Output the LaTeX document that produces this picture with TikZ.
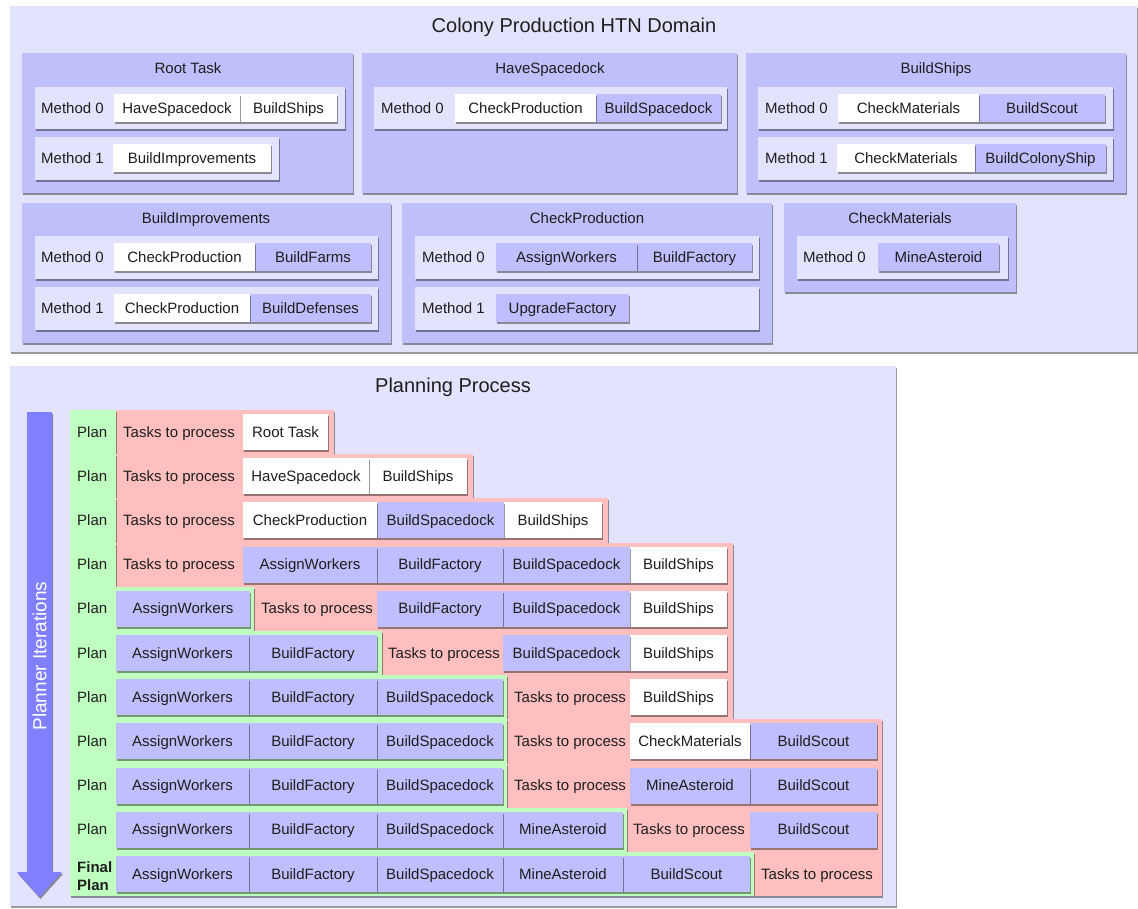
\documentclass[tikz,border=0pt]{standalone}
\usepackage{fontspec}
\setmainfont{Liberation Sans}
\usetikzlibrary{shadows}

\definecolor{bgl}{HTML}{E3E3FD}
\definecolor{pnl}{HTML}{BFBFFC}
\definecolor{tlav}{HTML}{BFBFFF}
\definecolor{grn}{HTML}{BFFFBF}
\definecolor{pnk}{HTML}{FFBFBF}
\definecolor{arw}{HTML}{8080FF}
\definecolor{ink}{HTML}{1E1E1E}

\tikzset{
  shd/.style={drop shadow={shadow xshift=1pt,shadow yshift=-2pt,opacity=.4,fill=black}},
  base/.style={rectangle, inner sep=0pt, outer sep=0pt, text=ink,
    font=\fontsize{15}{18}\selectfont, text height=12pt, text depth=2pt},
  outerbox/.style={base, fill=bgl, shd},
  panel/.style={base, fill=pnl, shd},
  mrow/.style={base, fill=bgl, shd},
  wtask/.style={base, fill=white, shd},
  ltask/.style={base, fill=tlav, shd},
  plan/.style={base, fill=grn, shd},
  todo/.style={base, fill=pnk, shd},
  lbl/.style={inner sep=0pt, text=ink, font=\fontsize{15}{18}\selectfont,
    text height=12pt, text depth=2pt},
  ttl/.style={inner sep=0pt, text=ink, font=\fontsize{20}{24}\selectfont,
    text height=16pt, text depth=2pt},
}

% rectangle node given by its corners
\newcommand\boxat[7]{\node[#1, minimum width={(#4)-(#2)}, minimum height={(#5)-(#3)}]
  (#6) at ({((#2)+(#4))/2},{((#3)+(#5))/2}) {#7};}
% planning rows: row number, style, left, right, name
\newcommand\bandat[5]{\node[#2, minimum width={(#4)-(#3)}, minimum height=44.2]
  (#5) at ({((#3)+(#4))/2},{432.1+44.2*((#1)-1)}) {};}
\newcommand\taskat[6]{\node[#2, minimum width={(#4)-(#3)}, minimum height=36]
  (#5) at ({((#3)+(#4))/2},{432+44.2*((#1)-1)}) {#6};}
\newcommand\textat[4]{\node[lbl, anchor=west] (#3) at (#2,{432+44.2*((#1)-1)}) {#4};}

\begin{document}
\begin{tikzpicture}[x=1pt,y=-1pt]
\useasboundingbox (0,0) rectangle (1138,908);
\fill[white] (0,0) rectangle (1138,908);

% ---------------- domain ----------------
\boxat{outerbox}{10}{6}{1137}{352}{domain}{}
\node[ttl] (domaintitle) at (574,25) {Colony Production HTN Domain};

% Root Task
\boxat{panel}{22}{53}{353}{193}{rootp}{}
\node[lbl] (rootpt) at (188,68) {Root Task};
\boxat{mrow}{35}{87}{345}{129}{rootm0}{}
\node[lbl,anchor=west] (rootm0l) at (41,108) {Method 0};
\boxat{wtask}{240}{94}{337}{122}{rootm0b}{BuildShips}
\boxat{wtask}{114}{94}{240}{122}{rootm0a}{HaveSpacedock}
\boxat{mrow}{35}{137}{279}{180}{rootm1}{}
\node[lbl,anchor=west] (rootm1l) at (41,158) {Method 1};
\boxat{wtask}{113}{144}{271}{172}{rootm1a}{BuildImprovements}

% HaveSpacedock
\boxat{panel}{362}{53}{737}{193}{hsp}{}
\node[lbl] (hspt) at (550,68) {HaveSpacedock};
\boxat{mrow}{374}{87}{727}{129}{hspm0}{}
\node[lbl,anchor=west] (hspm0l) at (381,108) {Method 0};
\boxat{ltask}{596}{94}{721}{122}{hspm0b}{BuildSpacedock}
\boxat{wtask}{455}{94}{596}{122}{hspm0a}{CheckProduction}

% BuildShips
\boxat{panel}{746}{53}{1126}{193}{bsp}{}
\node[lbl] (bspt) at (936,68) {BuildShips};
\boxat{mrow}{758}{87}{1113}{129}{bspm0}{}
\node[lbl,anchor=west] (bspm0l) at (765,108) {Method 0};
\boxat{ltask}{979}{94}{1105}{122}{bspm0b}{BuildScout}
\boxat{wtask}{838}{94}{979}{122}{bspm0a}{CheckMaterials}
\boxat{mrow}{758}{137}{1113}{180}{bspm1}{}
\node[lbl,anchor=west] (bspm1l) at (765,158) {Method 1};
\boxat{ltask}{975}{144}{1106}{172}{bspm1b}{BuildColonyShip}
\boxat{wtask}{837}{144}{975}{172}{bspm1a}{CheckMaterials}

% BuildImprovements
\boxat{panel}{22}{203}{391}{343}{bip}{}
\node[lbl] (bipt) at (206,218) {BuildImprovements};
\boxat{mrow}{35}{236}{378}{279}{bipm0}{}
\node[lbl,anchor=west] (bipm0l) at (41,257) {Method 0};
\boxat{ltask}{255}{243}{371}{271}{bipm0b}{BuildFarms}
\boxat{wtask}{114}{243}{255}{271}{bipm0a}{CheckProduction}
\boxat{mrow}{35}{287}{378}{330}{bipm1}{}
\node[lbl,anchor=west] (bipm1l) at (41,308) {Method 1};
\boxat{ltask}{250}{294}{371}{322}{bipm1b}{BuildDefenses}
\boxat{wtask}{114}{294}{250}{322}{bipm1a}{CheckProduction}

% CheckProduction
\boxat{panel}{402}{203}{772}{343}{cpp}{}
\node[lbl] (cppt) at (587,218) {CheckProduction};
\boxat{mrow}{415}{236}{759}{279}{cppm0}{}
\node[lbl,anchor=west] (cppm0l) at (422,257) {Method 0};
\boxat{ltask}{637}{243}{752}{271}{cppm0b}{BuildFactory}
\boxat{ltask}{496}{243}{637}{271}{cppm0a}{AssignWorkers}
\boxat{mrow}{415}{287}{759}{330}{cppm1}{}
\node[lbl,anchor=west] (cppm1l) at (422,308) {Method 1};
\boxat{ltask}{496}{294}{629}{322}{cppm1a}{UpgradeFactory}

% CheckMaterials
\boxat{panel}{784}{203}{1016}{292}{cmp}{}
\node[lbl] (cmpt) at (900,218) {CheckMaterials};
\boxat{mrow}{797}{236}{1008}{279}{cmpm0}{}
\node[lbl,anchor=west] (cmpm0l) at (803,257) {Method 0};
\boxat{ltask}{878}{243}{999}{271}{cmpm0a}{MineAsteroid}

% ---------------- planning process ----------------
\boxat{outerbox}{10}{366}{896}{906}{planning}{}
\node[ttl] (planningtitle) at (453,385) {Planning Process};

% iteration arrow
\path[fill=arw, shd] (27,412) -- (52,412) -- (52,872) -- (62,872) -- (39.5,897)
  -- (17,872) -- (27,872) -- cycle;
\node[inner sep=0pt, text=white, font=\fontsize{19}{22}\selectfont, rotate=90]
  (iterations) at (39.5,656) {Planner Iterations};

% row 1
\bandat{1}{todo}{116}{334}{r1todo}
\bandat{1}{plan}{70}{116}{r1plan}
\textat{1}{77}{r1p}{Plan}
\textat{1}{123}{r1t}{Tasks to process}
\taskat{1}{wtask}{243}{328}{r1a}{Root Task}

% row 2
\bandat{2}{todo}{116}{473}{r2todo}
\bandat{2}{plan}{70}{116}{r2plan}
\textat{2}{77}{r2p}{Plan}
\textat{2}{123}{r2t}{Tasks to process}
\taskat{2}{wtask}{369}{467}{r2b}{BuildShips}
\taskat{2}{wtask}{243}{369}{r2a}{HaveSpacedock}

% row 3
\bandat{3}{todo}{116}{608}{r3todo}
\bandat{3}{plan}{70}{116}{r3plan}
\textat{3}{77}{r3p}{Plan}
\textat{3}{123}{r3t}{Tasks to process}
\taskat{3}{wtask}{504}{602}{r3c}{BuildShips}
\taskat{3}{ltask}{377}{504}{r3b}{BuildSpacedock}
\taskat{3}{wtask}{243}{377}{r3a}{CheckProduction}

% row 4
\bandat{4}{todo}{116}{733}{r4todo}
\bandat{4}{plan}{70}{116}{r4plan}
\textat{4}{77}{r4p}{Plan}
\textat{4}{123}{r4t}{Tasks to process}
\taskat{4}{wtask}{630}{727}{r4d}{BuildShips}
\taskat{4}{ltask}{503}{630}{r4c}{BuildSpacedock}
\taskat{4}{ltask}{377}{503}{r4b}{BuildFactory}
\taskat{4}{ltask}{243}{377}{r4a}{AssignWorkers}

% row 5
\bandat{5}{todo}{254}{733}{r5todo}
\bandat{5}{plan}{70}{254}{r5plan}
\textat{5}{77}{r5p}{Plan}
\textat{5}{261}{r5t}{Tasks to process}
\taskat{5}{wtask}{630}{727}{r5d}{BuildShips}
\taskat{5}{ltask}{503}{630}{r5c}{BuildSpacedock}
\taskat{5}{ltask}{377}{503}{r5b}{BuildFactory}
\taskat{5}{ltask}{116}{250}{r5a}{AssignWorkers}

% row 6
\bandat{6}{todo}{382}{733}{r6todo}
\bandat{6}{plan}{70}{382}{r6plan}
\textat{6}{77}{r6p}{Plan}
\textat{6}{388}{r6t}{Tasks to process}
\taskat{6}{wtask}{630}{727}{r6d}{BuildShips}
\taskat{6}{ltask}{503}{630}{r6c}{BuildSpacedock}
\taskat{6}{ltask}{249}{377}{r6b}{BuildFactory}
\taskat{6}{ltask}{116}{249}{r6a}{AssignWorkers}

% row 7
\bandat{7}{todo}{507}{733}{r7todo}
\bandat{7}{plan}{70}{507}{r7plan}
\textat{7}{77}{r7p}{Plan}
\textat{7}{514}{r7t}{Tasks to process}
\taskat{7}{wtask}{630}{727}{r7d}{BuildShips}
\taskat{7}{ltask}{377}{503}{r7c}{BuildSpacedock}
\taskat{7}{ltask}{249}{377}{r7b}{BuildFactory}
\taskat{7}{ltask}{116}{249}{r7a}{AssignWorkers}

% row 8
\bandat{8}{todo}{507}{882}{r8todo}
\bandat{8}{plan}{70}{507}{r8plan}
\textat{8}{77}{r8p}{Plan}
\textat{8}{514}{r8t}{Tasks to process}
\taskat{8}{ltask}{750}{877}{r8e}{BuildScout}
\taskat{8}{wtask}{630}{750}{r8d}{CheckMaterials}
\taskat{8}{ltask}{377}{503}{r8c}{BuildSpacedock}
\taskat{8}{ltask}{249}{377}{r8b}{BuildFactory}
\taskat{8}{ltask}{116}{249}{r8a}{AssignWorkers}

% row 9
\bandat{9}{todo}{507}{882}{r9todo}
\bandat{9}{plan}{70}{507}{r9plan}
\textat{9}{77}{r9p}{Plan}
\textat{9}{514}{r9t}{Tasks to process}
\taskat{9}{ltask}{750}{877}{r9e}{BuildScout}
\taskat{9}{ltask}{630}{750}{r9d}{MineAsteroid}
\taskat{9}{ltask}{377}{503}{r9c}{BuildSpacedock}
\taskat{9}{ltask}{249}{377}{r9b}{BuildFactory}
\taskat{9}{ltask}{116}{249}{r9a}{AssignWorkers}

% row 10
\bandat{10}{todo}{627}{882}{r10todo}
\bandat{10}{plan}{70}{627}{r10plan}
\textat{10}{77}{r10p}{Plan}
\textat{10}{633}{r10t}{Tasks to process}
\taskat{10}{ltask}{750}{877}{r10e}{BuildScout}
\taskat{10}{ltask}{503}{623}{r10d}{MineAsteroid}
\taskat{10}{ltask}{377}{503}{r10c}{BuildSpacedock}
\taskat{10}{ltask}{249}{377}{r10b}{BuildFactory}
\taskat{10}{ltask}{116}{249}{r10a}{AssignWorkers}

% row 11: the final plan
\bandat{11}{todo}{754}{882}{r11todo}
\bandat{11}{plan}{70}{754}{r11plan}
\node[inner sep=0pt, text=ink, font=\fontsize{15}{18}\selectfont\bfseries,
  align=left, anchor=west] (r11p) at (77,876) {Final\\Plan};
\textat{11}{761}{r11t}{Tasks to process}
\taskat{11}{ltask}{623}{750}{r11e}{BuildScout}
\taskat{11}{ltask}{503}{623}{r11d}{MineAsteroid}
\taskat{11}{ltask}{377}{503}{r11c}{BuildSpacedock}
\taskat{11}{ltask}{249}{377}{r11b}{BuildFactory}
\taskat{11}{ltask}{116}{249}{r11a}{AssignWorkers}
\end{tikzpicture}
\end{document}
